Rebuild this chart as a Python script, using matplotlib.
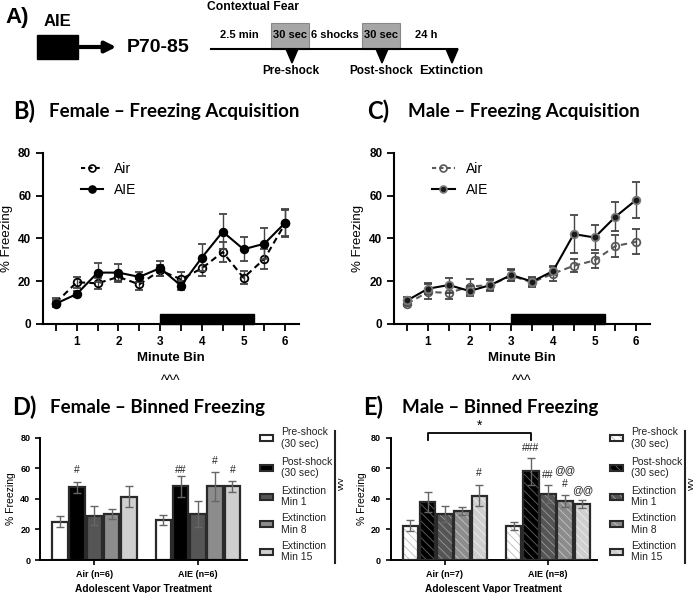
import numpy as np
import matplotlib
matplotlib.use("Agg")
import matplotlib.pyplot as plt
from matplotlib.lines import Line2D
from matplotlib.patches import Rectangle, Polygon

plt.rcParams["font.family"] = ["Liberation Sans", "DejaVu Sans"]
plt.rcParams["hatch.linewidth"] = 0.6

W, H = 696, 593

# ---- data ----
minute_bins = [0.5, 1, 1.5, 2, 2.5, 3, 3.5, 4, 4.5, 5, 5.5, 6]

f_air = [10, 19.5, 19, 22, 18.5, 25, 20.9, 26, 33.6, 21.6, 30.4, 47]
f_air_err = [2, 2.5, 2.5, 2.5, 2.5, 2.5, 3.5, 3.7, 4.6, 3, 4.7, 6.5]
f_aie = [9.5, 14, 24, 24, 22, 26.1, 17.9, 31, 43.1, 34.9, 37.5, 47.3]
f_aie_err = [1.5, 1.5, 4.3, 4, 2.5, 3.5, 2, 6.2, 8.3, 5.5, 7.3, 6]

m_air = [9.5, 15, 14.5, 17.5, 18.2, 22.5, 19.5, 23.5, 27.2, 29.7, 36.4, 38.4]
m_air_err = [1, 3.5, 3, 3.5, 2.5, 2.5, 2, 3.5, 3, 3.5, 5, 5.8]
m_aie = [11, 16.5, 18.2, 15.4, 18.2, 22.9, 19.8, 24.7, 42, 40.4, 50.1, 58]
m_aie_err = [1.5, 2.5, 3.5, 2.5, 3, 3, 2, 2, 8.8, 5.8, 6.8, 8.3]

phases = ["Pre-shock\n(30 sec)", "Post-shock\n(30 sec)", "Extinction\nMin 1",
          "Extinction\nMin 8", "Extinction\nMin 15"]
phase_colors = ["#ffffff", "#000000", "#555555", "#8c8c8c", "#cfcfcf"]
hatch_colors = ["#bbbbbb", "#666666", "#999999", "#c4c4c4", "#eeeeee"]

fd_air = [25, 47.5, 29, 29.8, 41.4]
fd_air_err = [3.5, 3.8, 6.2, 3.3, 6.8]
fd_aie = [26.1, 48.1, 30, 48.1, 48.1]
fd_aie_err = [3.5, 6.7, 8.3, 9.2, 3.7]
fd_groups = ["Air (n=6)", "AIE (n=6)"]

me_air = [22.4, 38.1, 30, 32, 42]
me_air_err = [3.5, 6.5, 5.2, 2.8, 6.8]
me_aie = [22, 58, 42.9, 38.6, 36.6]
me_aie_err = [2.6, 8.7, 5.9, 4.1, 2.6]
me_groups = ["Air (n=7)", "AIE (n=8)"]

fd_marks = [(1, "#", 58.8), (6 + 1, "##", 58.8), (6 + 3, "#", 65), (6 + 4, "#", 58.8)]
me_marks = [(4, "#", 56.6), (6 + 1, "###", 73), (6 + 2, "##", 55.5),
            (6 + 3, "@@", 58.8), (6 + 3, "#", 50), (6 + 4, "@@", 45.7)]

fig = plt.figure(figsize=(W / 100, H / 100), dpi=100)
ov = fig.add_axes([0, 0, 1, 1])
ov.set_xlim(0, W)
ov.set_ylim(H, 0)
ov.axis("off")


def px_axes(l, t, r, b):
    return fig.add_axes([l / W, 1 - b / H, (r - l) / W, (b - t) / H])


def style_axes(ax, lw=1.5):
    for s in ["top", "right"]:
        ax.spines[s].set_visible(False)
    for s in ["left", "bottom"]:
        ax.spines[s].set_linewidth(lw)
    ax.patch.set_alpha(0)


# ---- panel A ----
bold = dict(fontweight="bold", color="black")
ov.text(5, 17, "A)", fontsize=16, va="center", ha="left", **bold)
ov.text(57, 22, "AIE", fontsize=12, va="center", ha="center", **bold)
ov.add_patch(Rectangle((37, 35), 41, 24, color="black"))
ov.annotate("", xy=(119, 47), xytext=(77, 47),
            arrowprops=dict(arrowstyle="-|>", lw=3, color="black", mutation_scale=16))
ov.text(127, 48, "P70-85", fontsize=14, va="center", ha="left", **bold)

ov.text(207, 7, "Contextual Fear", fontsize=8.7, va="center", ha="left", **bold)
ov.plot([211, 457], [49, 49], color="black", lw=1.5)
for x0 in [271, 362]:
    ov.add_patch(Rectangle((x0, 23), 38, 26, facecolor="#a6a6a6", edgecolor="#888888", lw=0.8))
    ov.text(x0 + 19, 35, "30 sec", fontsize=8, ha="center", va="center", **bold)
ov.text(239, 35, "2.5 min", fontsize=8, ha="center", va="center", **bold)
ov.text(335, 35, "6 shocks", fontsize=8, ha="center", va="center", **bold)
ov.text(426, 35, "24 h", fontsize=8, ha="center", va="center", **bold)
for xc, lab in [(292, "Pre-shock"), (382, "Post-shock"), (452, "Extinction")]:
    ov.add_patch(Polygon([[xc - 6, 49], [xc + 6, 49], [xc, 63]], closed=True, color="black"))
    ov.text(xc - 1, 71, lab, fontsize=8.5 if lab != "Extinction" else 9.5,
            ha="center", va="center", **bold)

# ---- titles ----
tfont = ["Lato", "DejaVu Sans"]
for x, y, letter, xt, title in [(13, 111, "B)", 49, "Female – Freezing Acquisition"),
                                (367, 111, "C)", 408, "Male – Freezing Acquisition"),
                                (12, 407, "D)", 50, "Female – Binned Freezing"),
                                (363, 407, "E)", 402, "Male – Binned Freezing")]:
    ov.text(x, y, letter, fontsize=17, fontweight="bold", family=tfont, va="center")
    ov.text(xt, y, title, fontsize=13.5, fontweight="bold", family=tfont, va="center")


# ---- line panels ----
def line_panel(ax, air, air_err, aie, aie_err, air_col, aie_face, aie_edge, aie_line):
    ax.errorbar(minute_bins, air, yerr=air_err, color=air_col, ls=(0, (3, 2)), lw=1.5,
                marker="o", ms=5.5, mfc="none", mec=air_col, mew=1.3,
                ecolor="#444444", elinewidth=1, capsize=3, capthick=1, zorder=3)
    ax.errorbar(minute_bins, aie, yerr=aie_err, color=aie_line, ls="-", lw=1.5,
                marker="o", ms=5.5, mfc=aie_face, mec=aie_edge, mew=1.3,
                ecolor="#444444", elinewidth=1, capsize=3, capthick=1, zorder=4)
    ax.add_patch(Rectangle((3, 0.2), 2.25, 4.3, color="black", zorder=2, clip_on=False))
    ax.set_xlim(0.19, 6.33)
    ax.set_ylim(0, 80)
    ax.set_yticks([0, 20, 40, 60, 80])
    ax.set_xticks(minute_bins)
    ax.set_xticklabels([str(int(v)) if v == int(v) else "" for v in minute_bins])
    ax.tick_params(labelsize=8.5, width=1.3, length=5)
    for t in ax.get_xticklabels() + ax.get_yticklabels():
        t.set_fontweight("bold")
    ax.set_ylabel("% Freezing", fontsize=9.5, labelpad=4)
    ax.set_xlabel("Minute Bin", fontsize=9.5, fontweight="bold", labelpad=3)
    ax.text(0.5, -0.33, "^^^", transform=ax.transAxes, ha="center", va="center", fontsize=10)
    style_axes(ax)
    handles = [Line2D([], [], color=air_col, ls=(0, (2, 1.5)), lw=1.5, marker="o", ms=5,
                      mfc="none", mec=air_col, mew=1.2),
               Line2D([], [], color=aie_line, ls="-", lw=1.5, marker="o", ms=5,
                      mfc=aie_face, mec=aie_edge, mew=1.2)]
    ax.legend(handles, ["Air", "AIE"], loc="upper left", bbox_to_anchor=(0.1, 1.02),
              frameon=False, fontsize=10, handlelength=1.6, handletextpad=0.8,
              labelspacing=0.5)


axB = px_axes(43, 152.7, 299, 324)
line_panel(axB, f_air, f_air_err, f_aie, f_aie_err, "black", "black", "black", "black")
axC = px_axes(394.3, 152.7, 650, 324)
line_panel(axC, m_air, m_air_err, m_aie, m_aie_err, "#5a5a5a", "#1a1a1a", "#7a7a7a", "black")


# ---- bar panels ----
def bar_panel(ax, air, air_err, aie, aie_err, groups, marks, hatched):
    for i in range(5):
        xs = [i, 6 + i]
        ys = [air[i], aie[i]]
        es = [air_err[i], aie_err[i]]
        if hatched:
            ax.bar(xs, ys, width=0.9, color=phase_colors[i], edgecolor=hatch_colors[i],
                   hatch="\\\\\\\\", linewidth=0, zorder=2)
            ax.bar(xs, ys, width=0.9, fill=False, edgecolor="#2a2a2a", linewidth=1.6, zorder=3)
        else:
            ax.bar(xs, ys, width=0.9, color=phase_colors[i], edgecolor="#2a2a2a",
                   linewidth=1.6, zorder=2)
        ax.errorbar(xs, ys, yerr=es, fmt="none", ecolor="#666666", elinewidth=1,
                    capsize=3, capthick=1, zorder=4)
    for x, s, y in marks:
        ax.text(x, y, s, ha="center", va="center", fontsize=7.5, color="#222222")
    ax.set_xlim(-1.15, 10.83)
    ax.set_ylim(0, 80)
    ax.set_yticks([0, 20, 40, 60, 80])
    ax.set_xticks([2, 8])
    ax.set_xticklabels(groups)
    ax.tick_params(labelsize=6.5, width=1.2, length=3.5)
    for t in ax.get_xticklabels() + ax.get_yticklabels():
        t.set_fontweight("bold")
    ax.set_ylabel("% Freezing", fontsize=7.5, labelpad=3)
    ax.set_xlabel("Adolescent Vapor Treatment", fontsize=7.3, fontweight="bold", labelpad=4)
    style_axes(ax, 1.4)


axD = px_axes(40, 437.7, 246.7, 560)
bar_panel(axD, fd_air, fd_air_err, fd_aie, fd_aie_err, fd_groups, fd_marks, False)
axE = px_axes(390.7, 437.7, 596.7, 560)
bar_panel(axE, me_air, me_air_err, me_aie, me_aie_err, me_groups, me_marks, True)

# significance bracket in E
axE.plot([1, 1, 7, 7], [78.5, 82.8, 82.8, 78.5], color="black", lw=1.3, clip_on=False)
axE.text(4, 87.5, "*", ha="center", va="center", fontsize=10, color="black")

# legends for D and E
for x0, hatched in [(260, False), (610, True)]:
    yc_list = [438, 467.7, 496.7, 524, 551.7]
    for i, yc in enumerate(yc_list):
        if hatched:
            ov.add_patch(Rectangle((x0, yc - 3), 13, 6, facecolor=phase_colors[i],
                                   edgecolor=hatch_colors[i], hatch="\\\\\\\\", lw=0))
            ov.add_patch(Rectangle((x0, yc - 3), 13, 6, fill=False, edgecolor="#2a2a2a", lw=1.5))
        else:
            ov.add_patch(Rectangle((x0, yc - 3), 13, 6, facecolor=phase_colors[i],
                                   edgecolor="#2a2a2a", lw=1.5))
        ov.text(x0 + 21, yc, phases[i], fontsize=7.5, ha="left", va="center",
                linespacing=1.15, color="#222222")
    ov.plot([x0 + 75, x0 + 75], [431, 563], color="#222222", lw=1.5)
    ov.text(x0 + 81, 483, "vvv", fontsize=6.5, rotation=90, ha="center", va="center")

fig.savefig("out.png", dpi=100)
